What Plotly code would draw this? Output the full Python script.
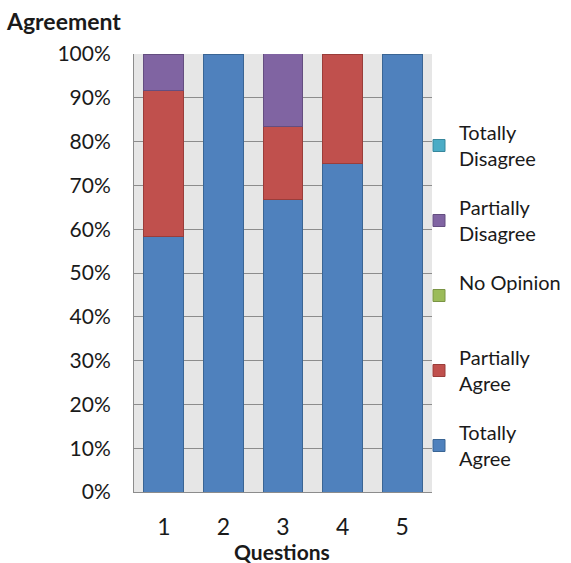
import plotly.graph_objects as go

questions = ["1", "2", "3", "4", "5"]
totally_agree = [58.33, 100, 66.67, 75, 100]
partially_agree = [33.33, 0, 16.67, 25, 0]
no_opinion = [0, 0, 0, 0, 0]
partially_disagree = [8.33, 0, 16.67, 0, 0]
totally_disagree = [0, 0, 0, 0, 0]

y_ticks = list(range(0, 101, 10))

series = [
    ("Totally<br>Agree", totally_agree, "#4F81BD", "#3A6594"),
    ("Partially<br>Agree", partially_agree, "#C0504D", "#9A3D3A"),
    ("No Opinion<br> ", no_opinion, "#9BBB59", "#7A9444"),
    ("Partially<br>Disagree", partially_disagree, "#8064A2", "#644E80"),
    ("Totally<br>Disagree", totally_disagree, "#4BACC6", "#37879C"),
]

FONT = "Lato"
fig = go.Figure()
n = len(series)
for i, (name, vals, col, edge) in enumerate(series):
    fig.add_trace(go.Bar(
        x=questions, y=[v if v else None for v in vals], name=name,
        legendgroup=f"g{i}", legendrank=n - i,
        marker=dict(color=col, line=dict(color=edge, width=1)),
    ))

fig.update_layout(
    barmode="stack",
    bargap=0.33,
    width=571, height=563,
    margin=dict(l=134, r=139, t=54, b=71, autoexpand=False),
    paper_bgcolor="white",
    plot_bgcolor="#E6E6E6",
    font=dict(family=FONT, color="#1a1a1a"),
    showlegend=True,
    legend=dict(
        x=(419 - 134) / 298, y=(492 - 113) / 438, xanchor="left", yanchor="top",
        traceorder="grouped",
        tracegroupgap=20,
        font=dict(size=20, family=FONT, color="#1a1a1a"),
        itemwidth=30,
        bgcolor="rgba(0,0,0,0)",
    ),
    xaxis=dict(
        tickfont=dict(size=23, family=FONT),
        showline=True, linecolor="#8C8C8C", linewidth=1,
        ticks="", showgrid=False, ticklabelstandoff=14,
    ),
    yaxis=dict(
        range=[0, 100],
        tickvals=y_ticks,
        ticktext=[f"{v}%" for v in y_ticks],
        tickfont=dict(size=21, family=FONT),
        showgrid=True, gridcolor="#8C8C8C", gridwidth=1,
        showline=True, linecolor="#8C8C8C", linewidth=1,
        ticks="", ticklabelstandoff=18,
        zeroline=False,
    ),
    annotations=[
        dict(text="<b>Agreement</b>", x=(4 - 134) / 298, y=(492 - 21) / 438,
             xref="paper", yref="paper", xanchor="left", yanchor="middle",
             showarrow=False, font=dict(size=23, family=FONT)),
        dict(text="<b>Questions</b>", x=(282 - 134) / 298, y=(492 - 551) / 438,
             xref="paper", yref="paper", xanchor="center", yanchor="middle",
             showarrow=False, font=dict(size=21, family=FONT)),
    ],
)

fig.write_html("out.html")
